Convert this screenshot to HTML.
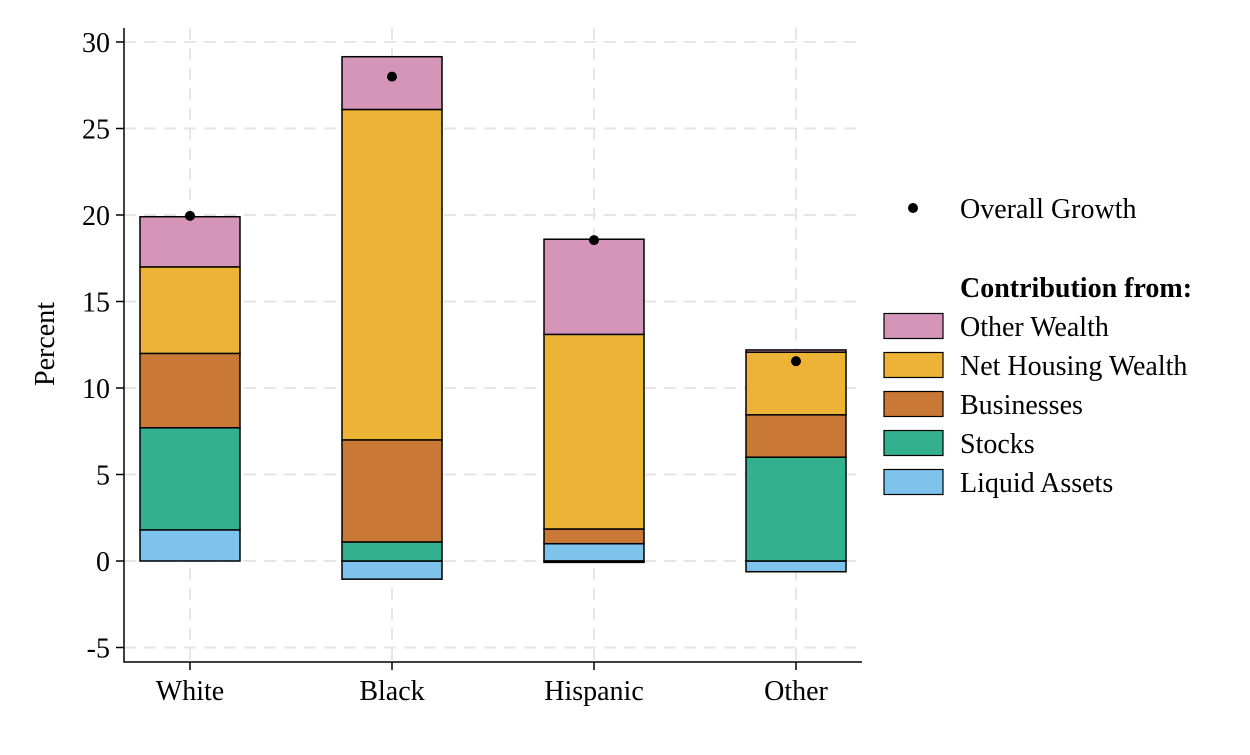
<!DOCTYPE html>
<html><head><meta charset="utf-8"><style>
body{margin:0;background:#fff;}
svg text{font-family:"Liberation Serif",serif;fill:#000;}
</style></head><body>
<svg id="chart" width="1250" height="750" xmlns="http://www.w3.org/2000/svg"></svg>
<script>
const categories=["White","Black","Hispanic","Other"];
const liquidAssets=[1.8,-1.05,1.0,-0.62];
const stocks=[5.9,1.1,-0.08,6.0];
const businesses=[4.3,5.9,0.85,2.45];
const netHousing=[5.0,19.1,11.25,3.62];
const otherWealth=[2.9,3.05,5.5,0.13];
const overallGrowth=[19.95,28.0,18.55,11.55];
const yTicks=[-5,0,5,10,15,20,25,30];
const seriesNames=["Liquid Assets","Stocks","Businesses","Net Housing Wealth","Other Wealth"];
const seriesData=[liquidAssets,stocks,businesses,netHousing,otherWealth];
const colors=["#7dc3ec","#33b08e","#c97836","#ecb336","#d595b8"];

const NS="http://www.w3.org/2000/svg";
const svg=document.getElementById("chart");
const FS=28;
function y(v){return 561-v*17.3;}
function x(i){return 190+i*202;}
function mk(tag,attrs,parent){const e=document.createElementNS(NS,tag);for(const k in attrs)e.setAttribute(k,attrs[k]);(parent||svg).appendChild(e);return e;}

yTicks.forEach(t=>{
  const g=mk("line",{x1:124,x2:862,y1:y(t),y2:y(t),stroke:"#e6e6e6","stroke-width":2,"stroke-dasharray":"12,8"});
  
  
});
categories.forEach((c,i)=>{
  const g=mk("line",{x1:x(i),x2:x(i),y1:28,y2:662,stroke:"#e6e6e6","stroke-width":2,"stroke-dasharray":"12,8"});
  
  
});
categories.forEach((c,i)=>{
  let pos=0,neg=0;
  seriesData.forEach((arr,s)=>{
    const v=arr[i];let top,bot;
    if(v>=0){bot=pos;top=pos+v;pos=top;}else{top=neg;bot=neg+v;neg=bot;}
    const r=mk("rect",{x:x(i)-50,y:y(top),width:100,height:Math.max(0.5,y(bot)-y(top)),fill:colors[s],stroke:"#000","stroke-width":1.5});
    
    
  });
  const d=mk("circle",{cx:x(i),cy:y(overallGrowth[i]),r:5,fill:"#000"});
  
  
  const t=mk("text",{x:x(i),y:700,"font-size":FS,"text-anchor":"middle"});
  t.textContent=c;
  
  
  const tk=mk("line",{x1:x(i),x2:x(i),y1:662,y2:670,stroke:"#000","stroke-width":1.5});
  
  
});
const ax=mk("path",{d:"M124,28 V662 H862",fill:"none",stroke:"#000","stroke-width":1.5});


yTicks.forEach(t=>{
  const tk=mk("line",{x1:116,x2:124,y1:y(t),y2:y(t),stroke:"#000","stroke-width":1.5});
  
  
  const l=mk("text",{x:110,y:y(t)+10,"font-size":FS,"text-anchor":"end"});
  l.textContent=t;
  
  
});
const yt=mk("text",{x:0,y:0,"font-size":FS,"text-anchor":"middle",transform:"translate(54,344) rotate(-90)"});
yt.textContent="Percent";


const lg=mk("g",{});


const ld=mk("circle",{cx:913,cy:208,r:5,fill:"#000"},lg);


const lt=mk("text",{x:960,y:218,"font-size":FS},lg);
lt.textContent="Overall Growth";


const ltt=mk("text",{x:960,y:297,"font-size":FS,"font-weight":"bold"},lg);
ltt.textContent="Contribution from:";


for(let k=0;k<5;k++){
  const s=4-k;const cy=326+k*39;
  const sw=mk("rect",{x:884,y:cy-12.5,width:59,height:25,fill:colors[s],stroke:"#000","stroke-width":1.2},lg);
  
  
  const tx=mk("text",{x:960,y:cy+10,"font-size":FS},lg);
  tx.textContent=seriesNames[s];
  
  
}
</script>
</body></html>
